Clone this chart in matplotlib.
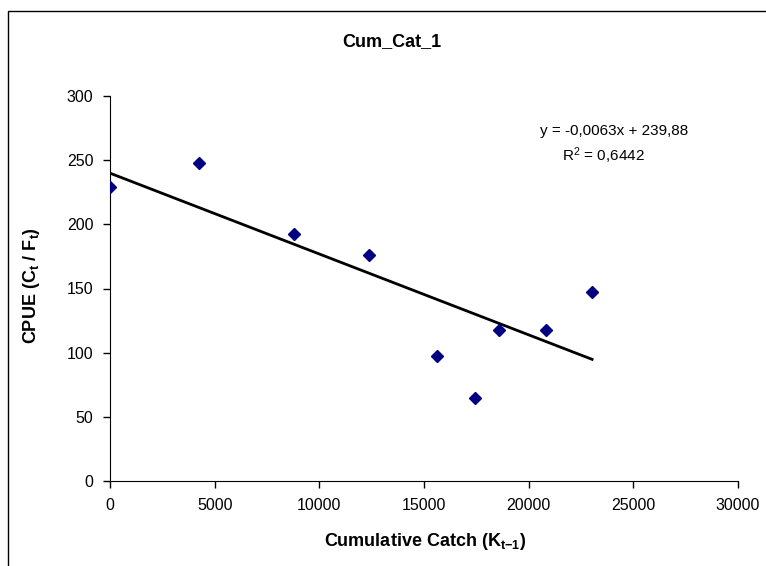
import matplotlib
matplotlib.use('Agg')
import matplotlib.pyplot as plt
from matplotlib.patches import Rectangle

plt.rcParams['font.family'] = ['Liberation Sans', 'DejaVu Sans']
plt.rcParams['mathtext.fontset'] = 'custom'
plt.rcParams['mathtext.rm'] = 'Liberation Sans'
plt.rcParams['mathtext.it'] = 'Liberation Sans'
plt.rcParams['mathtext.bf'] = 'Liberation Sans:bold'

# data
cum_catch = [0, 4240, 8790, 12360, 15640, 17440, 18600, 20810, 23030]
cpue = [228.9, 247.6, 192.7, 176.0, 97.2, 64.9, 117.9, 117.9, 147.5]
slope = -0.0063
intercept = 239.88
eq_label = 'y = -0,0063x + 239,88'
r2_label = '0,6442'

my_dpi = 100
fig = plt.figure(figsize=(766/my_dpi, 566/my_dpi), dpi=my_dpi)
ax = fig.add_axes([110/766, 85/566, 628/766, 385/566])

# outer chart frame
fig.patches.append(Rectangle((8/766, -0.1), 1.2, (555/566) + 0.1, transform=fig.transFigure,
                             fill=False, edgecolor='k', linewidth=1.0))

ax.plot(cum_catch, cpue, linestyle='none', marker='D', markersize=6,
        color='#000080', zorder=3)
x_fit = [min(cum_catch), max(cum_catch)]
y_fit = [intercept + slope*v for v in x_fit]
ax.plot(x_fit, y_fit, color='k', linewidth=2)

ax.set_xlim(0, 30000)
ax.set_ylim(0, 300)
ax.set_xticks(range(0, 30001, 5000))
ax.set_yticks(range(0, 301, 50))
ax.tick_params(direction='out', length=5, width=1, labelsize=11.5, pad=7)
for s in ['top', 'right']:
    ax.spines[s].set_visible(False)

fig.text(614/766, 1-131/566, eq_label, fontsize=11, ha='center', va='center')
fig.text(603/766, 1-156/566, 'R$^2$ = ' + r2_label, fontsize=11, ha='center', va='center')

fig.text(392/766, 1-42/566, 'Cum_Cat_1', fontsize=13, fontweight='bold',
         ha='center', va='center')
fig.text(32/766, 1-286/566, r'CPUE (C$_\mathbf{t}$ / F$_\mathbf{t}$)', fontsize=13,
         fontweight='bold', rotation=90, ha='center', va='center')
fig.text(425/766, 1-542/566, r'Cumulative Catch (K$_\mathbf{t{-}1}$)', fontsize=13,
         fontweight='bold', ha='center', va='center')

plt.savefig('out.png', dpi=my_dpi)
